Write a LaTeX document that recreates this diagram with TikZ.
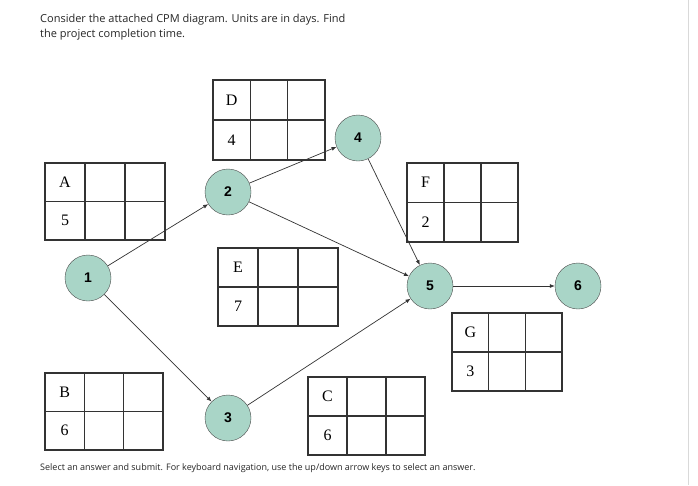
\documentclass[tikz,border=0pt]{standalone}
\usepackage{fontspec}
\setmainfont{Liberation Serif}
\newfontfamily\hdr{Open Sans}
\newfontfamily\arl{Liberation Sans}
\usetikzlibrary{arrows.meta}
\definecolor{teal1}{HTML}{A9D5C7}
\tikzset{ev/.style={circle,draw=black!70,fill=teal1,minimum size=46pt,inner sep=0pt,font=\arl\bfseries\fontsize{14}{14}\selectfont},
conn/.style={draw=black!80,line width=0.7pt,-{Latex[length=5pt,width=4pt]}},
bx/.style={line width=1.2pt,draw=black!80},
lbl/.style={font=\fontsize{16}{16}\selectfont,anchor=center}}
\newcommand{\actbox}[5]{% name,x1,y1,x2,y2
 \draw[bx] (#2,#3) rectangle (#4,#5);
 \pgfmathsetmacro\wa{#2+(#4-#2)/3}\pgfmathsetmacro\wb{#2+2*(#4-#2)/3}\pgfmathsetmacro\hm{(#3+#5)/2}
 \draw[bx] (\wa,#3)--(\wa,#5) (\wb,#3)--(\wb,#5) (#2,\hm)--(#4,\hm);
 \coordinate (#1tl) at ({(#2+\wa)/2},{(#3+\hm)/2});
 \coordinate (#1bl) at ({(#2+\wa)/2},{(\hm+#5)/2});}
\begin{document}
\begin{tikzpicture}[x=1pt,y=-1pt]
\useasboundingbox[fill=white] (0,0) rectangle (698,485);
\draw[black!15] (688,0)--(688,485);
\node[anchor=north west,align=left,font=\hdr\fontsize{11}{14.5}\selectfont,text=black!85,inner sep=0pt] (hd) at (40,14) {Consider the attached CPM diagram. Units are in days. Find\\the project completion time.};
\node[anchor=west,font=\hdr\fontsize{9}{11}\selectfont,text=black!85,inner sep=0pt] (ft) at (40,468) {Select an answer and submit. For keyboard navigation, use the up/down arrow keys to select an answer.};
\actbox{A}{45}{163}{165}{240}
\actbox{D}{213}{80}{325}{160}
\actbox{E}{218}{248}{338}{326}
\actbox{F}{407}{163}{518}{242}
\actbox{G}{452}{313}{562}{391}
\actbox{B}{45}{373}{163}{450}
\actbox{C}{308}{377}{425}{455}
\foreach \n/\l/\v in {A/A/5,D/D/4,E/E/7,F/F/2,G/G/3,B/B/6,C/C/6}{
 \node[lbl] (\n l) at (\n tl) {\l};
 \node[lbl] (\n v) at (\n bl) {\v};}
\node[ev] (n1) at (88,278) {1};
\node[ev] (n2) at (228,192) {2};
\node[ev] (n3) at (228,418) {3};
\node[ev] (n4) at (358,138) {4};
\node[ev] (n5) at (430,286) {5};
\node[ev] (n6) at (578,286) {6};
\draw[conn] (n1)--(n2);
\draw[conn] (n1)--(n3);
\draw[conn] (n2)--(n4);
\draw[conn] (n2)--(n5);
\draw[conn] (n4)--(n5);
\draw[conn] (n3)--(n5);
\draw[conn] (n5)--(n6);
\end{tikzpicture}
\end{document}
